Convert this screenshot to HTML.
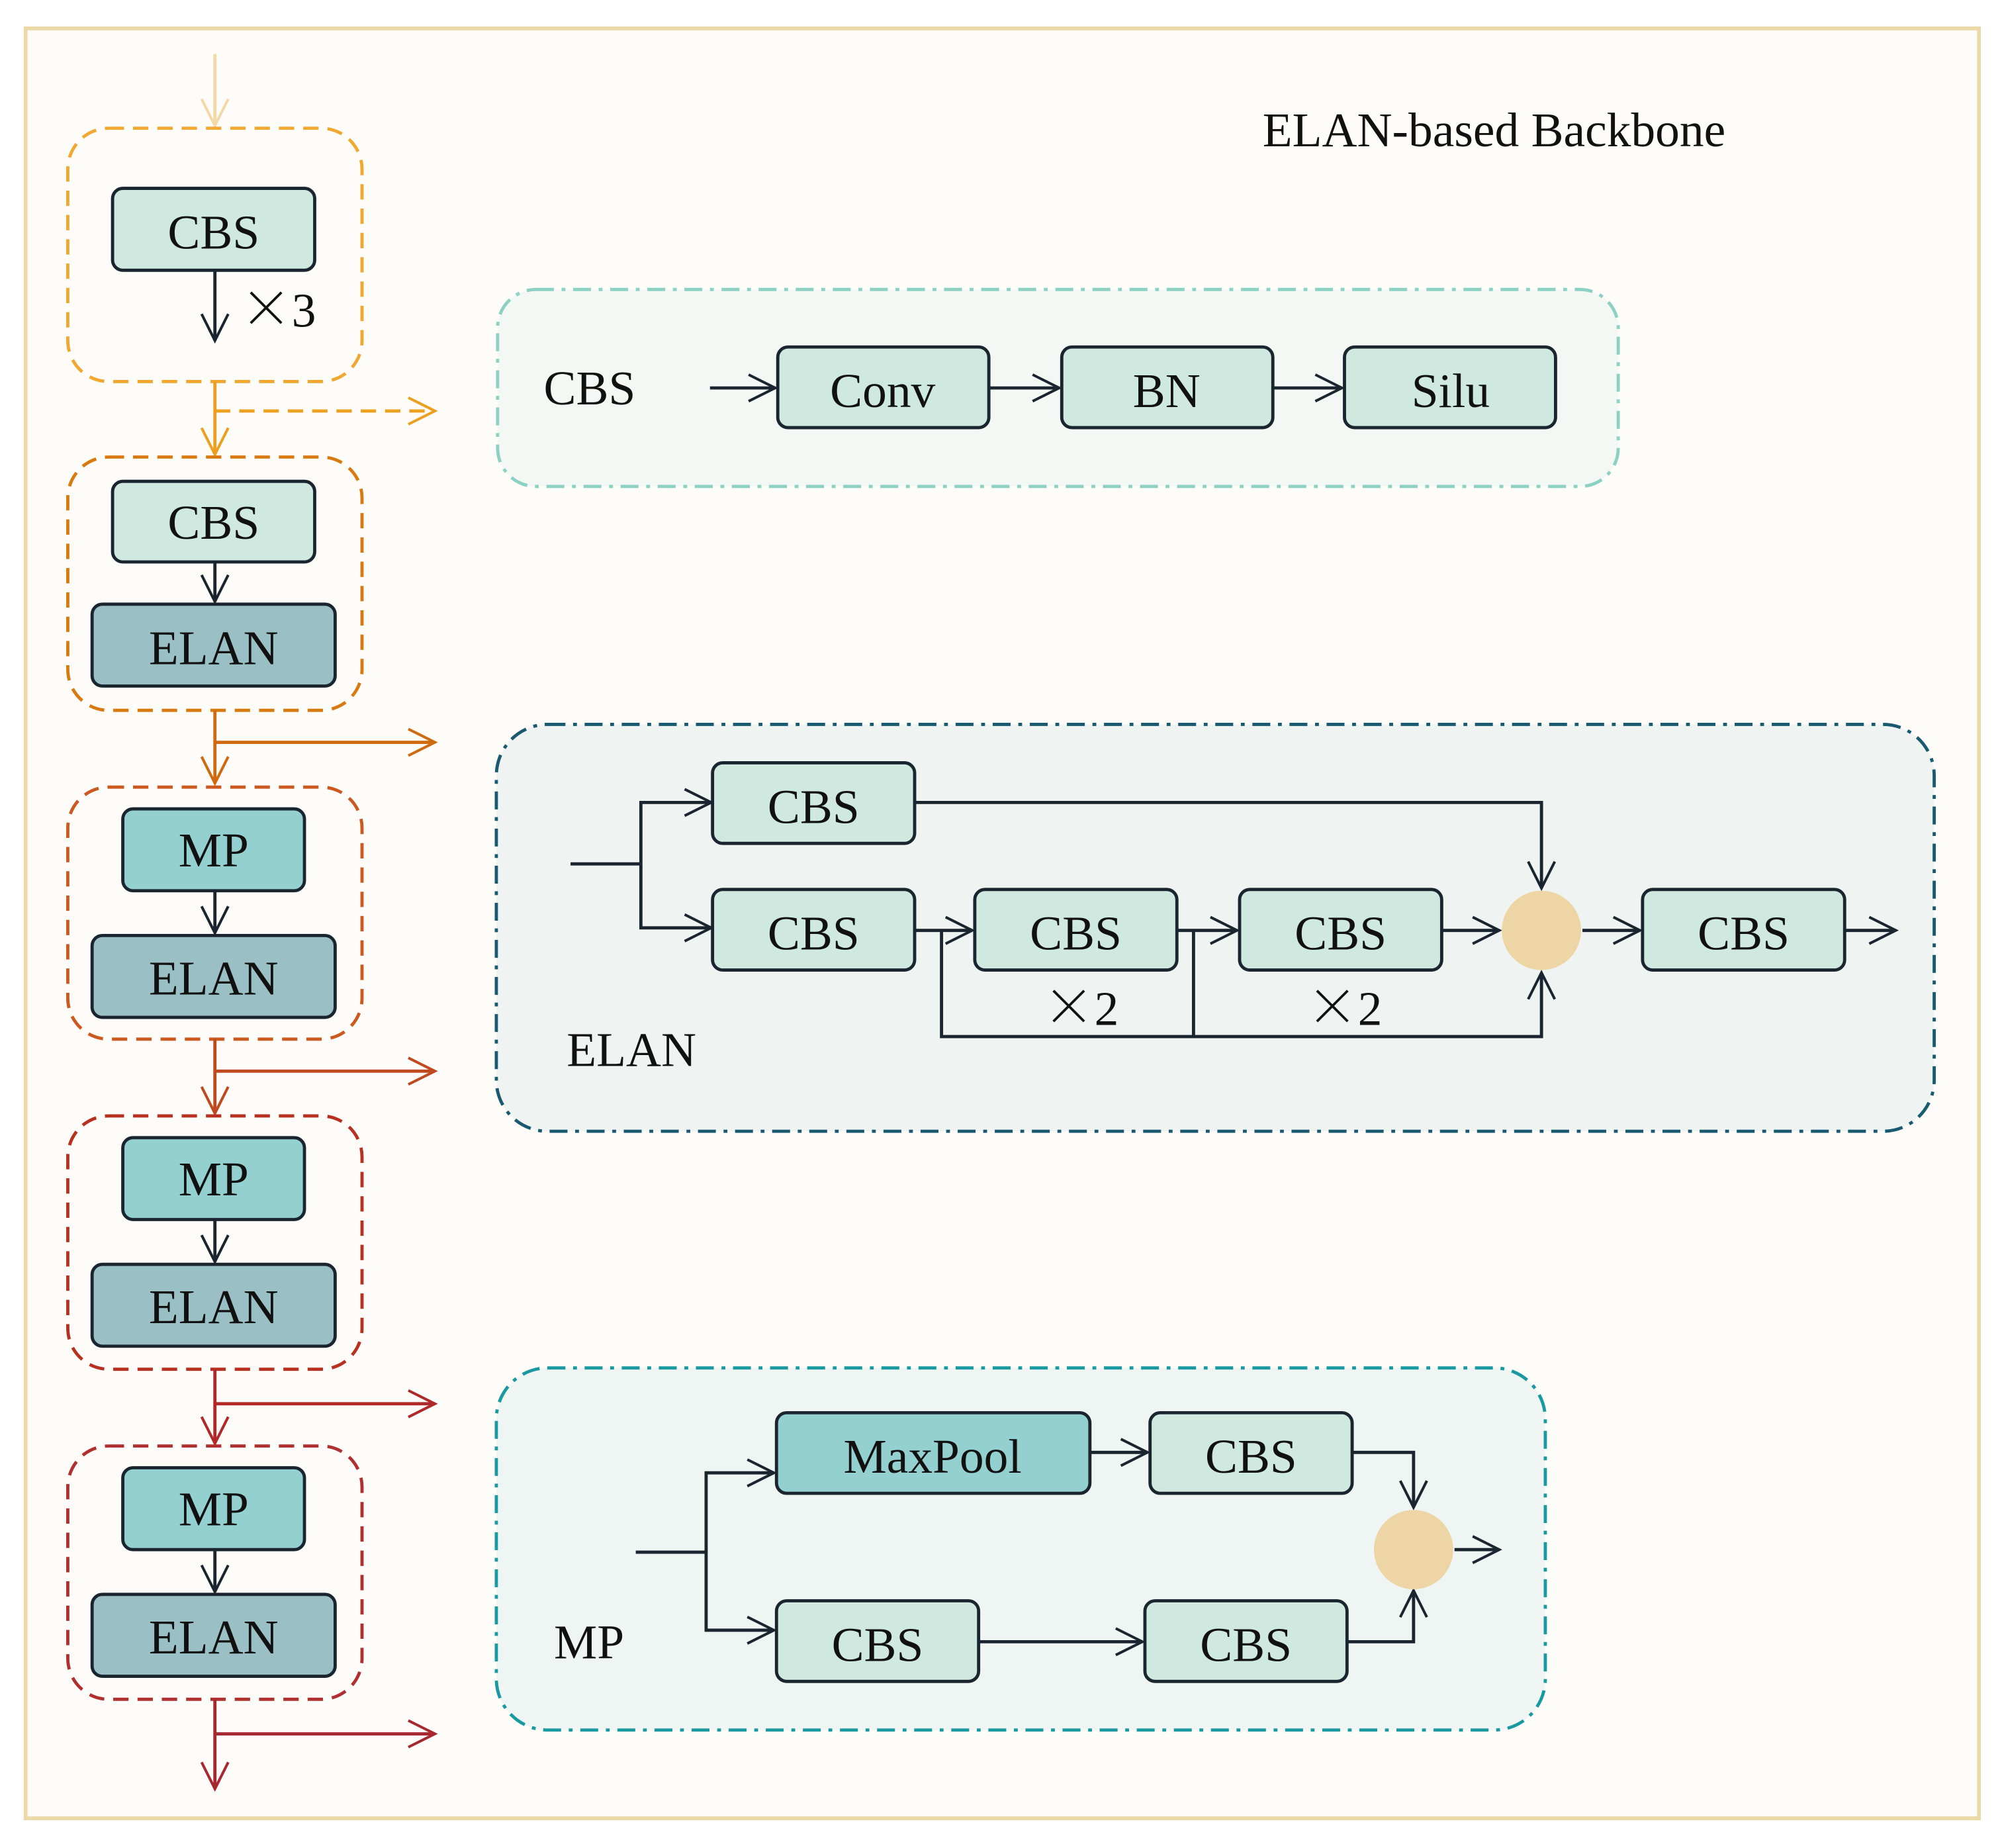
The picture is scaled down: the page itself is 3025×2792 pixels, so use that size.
<!DOCTYPE html>
<html><head><meta charset="utf-8"><style>
html,body{margin:0;padding:0;background:#fff;}
svg{display:block;}
text{font-family:"Liberation Serif",serif;font-size:38px;fill:#111;}
.x{font-family:"Noto Sans CJK SC",sans-serif;font-size:40px;font-weight:300;}
</style></head><body>
<svg width="3025" height="2792" viewBox="0 0 1565 1444" xmlns="http://www.w3.org/2000/svg">
<defs>
<marker id="k" viewBox="0 0 20 20" refX="18" refY="10" markerWidth="26" markerHeight="26" markerUnits="userSpaceOnUse" orient="auto"><path d="M2,2 L18,10 L2,18" fill="none" stroke="#1a2530" stroke-width="1.6"/></marker>
<marker id="o1" viewBox="0 0 20 20" refX="18" refY="10" markerWidth="26" markerHeight="26" markerUnits="userSpaceOnUse" orient="auto"><path d="M2,2 L18,10 L2,18" fill="none" stroke="#f3d9a8" stroke-width="1.6"/></marker>
<marker id="o2" viewBox="0 0 20 20" refX="18" refY="10" markerWidth="26" markerHeight="26" markerUnits="userSpaceOnUse" orient="auto"><path d="M2,2 L18,10 L2,18" fill="none" stroke="#eda020" stroke-width="1.6"/></marker>
<marker id="o3" viewBox="0 0 20 20" refX="18" refY="10" markerWidth="26" markerHeight="26" markerUnits="userSpaceOnUse" orient="auto"><path d="M2,2 L18,10 L2,18" fill="none" stroke="#d06a10" stroke-width="1.6"/></marker>
<marker id="o4" viewBox="0 0 20 20" refX="18" refY="10" markerWidth="26" markerHeight="26" markerUnits="userSpaceOnUse" orient="auto"><path d="M2,2 L18,10 L2,18" fill="none" stroke="#c04a20" stroke-width="1.6"/></marker>
<marker id="o5" viewBox="0 0 20 20" refX="18" refY="10" markerWidth="26" markerHeight="26" markerUnits="userSpaceOnUse" orient="auto"><path d="M2,2 L18,10 L2,18" fill="none" stroke="#b02828" stroke-width="1.6"/></marker>
<marker id="o6" viewBox="0 0 20 20" refX="18" refY="10" markerWidth="26" markerHeight="26" markerUnits="userSpaceOnUse" orient="auto"><path d="M2,2 L18,10 L2,18" fill="none" stroke="#a82830" stroke-width="1.6"/></marker>
</defs>
<rect x="0" y="0" width="1565" height="1444" fill="#fff"/>
<rect x="20" y="22" width="1527" height="1399" fill="#fdfcf8" stroke="#ecd9a8" stroke-width="3"/>

<g stroke-width="2.5" fill="none">
<line x1="168" y1="42" x2="168" y2="98" stroke="#f3d9a8" marker-end="url(#o1)"/>
<rect x="53" y="100" width="230" height="198" rx="32" stroke="#f0a830" stroke-dasharray="12,7"/>
<line x1="168" y1="298" x2="168" y2="355" stroke="#eda020" marker-end="url(#o2)"/>
<line x1="168" y1="321" x2="340" y2="321" stroke="#eda020" stroke-dasharray="12,7" marker-end="url(#o2)"/>
<rect x="53" y="357" width="230" height="198" rx="32" stroke="#d97a10" stroke-dasharray="12,7"/>
<line x1="168" y1="555" x2="168" y2="612" stroke="#d06a10" marker-end="url(#o3)"/>
<line x1="168" y1="580" x2="340" y2="580" stroke="#d06a10" marker-end="url(#o3)"/>
<rect x="53" y="615" width="230" height="197" rx="32" stroke="#cc5a20" stroke-dasharray="12,7"/>
<line x1="168" y1="812" x2="168" y2="870" stroke="#c04a20" marker-end="url(#o4)"/>
<line x1="168" y1="837" x2="340" y2="837" stroke="#c04a20" marker-end="url(#o4)"/>
<rect x="53" y="872" width="230" height="198" rx="32" stroke="#b83020" stroke-dasharray="12,7"/>
<line x1="168" y1="1070" x2="168" y2="1128" stroke="#b02828" marker-end="url(#o5)"/>
<line x1="168" y1="1097" x2="340" y2="1097" stroke="#b02828" marker-end="url(#o5)"/>
<rect x="53" y="1130" width="230" height="198" rx="32" stroke="#b03030" stroke-dasharray="12,7"/>
<line x1="168" y1="1328" x2="168" y2="1398" stroke="#a82830" marker-end="url(#o6)"/>
<line x1="168" y1="1355" x2="340" y2="1355" stroke="#a82830" marker-end="url(#o6)"/>
</g>
<g stroke="#1a2530" stroke-width="2.5">
<rect x="88" y="147" width="158" height="64" rx="8" fill="#cfe8e0"/>
<rect x="88" y="376" width="158" height="63" rx="8" fill="#cfe8e0"/>
<rect x="72" y="472" width="190" height="64" rx="8" fill="#9abfc4"/>
<rect x="96" y="632" width="142" height="64" rx="8" fill="#94d0d0"/>
<rect x="72" y="731" width="190" height="64" rx="8" fill="#9abfc4"/>
<rect x="96" y="889" width="142" height="64" rx="8" fill="#94d0d0"/>
<rect x="72" y="988" width="190" height="64" rx="8" fill="#9abfc4"/>
<rect x="96" y="1147" width="142" height="64" rx="8" fill="#94d0d0"/>
<rect x="72" y="1246" width="190" height="64" rx="8" fill="#9abfc4"/>
<g fill="none" marker-end="url(#k)">
<line x1="168" y1="211" x2="168" y2="266"/>
<line x1="168" y1="439" x2="168" y2="470"/>
<line x1="168" y1="696" x2="168" y2="729"/>
<line x1="168" y1="953" x2="168" y2="986"/>
<line x1="168" y1="1211" x2="168" y2="1244"/>
</g>
</g>
<g text-anchor="middle">
<text x="167" y="194">CBS</text>
<text x="167" y="421">CBS</text>
<text x="167" y="519">ELAN</text>
<text x="167" y="677">MP</text>
<text x="167" y="777">ELAN</text>
<text x="167" y="934">MP</text>
<text x="167" y="1034">ELAN</text>
<text x="167" y="1192">MP</text>
<text x="167" y="1292">ELAN</text>
</g>
<text x="188" y="255"><tspan class="x">×</tspan>3</text>
<text x="987" y="114">ELAN-based Backbone</text>

<rect x="389" y="226" width="876" height="154" rx="30" fill="#f3f8f4" stroke="#8dd0c4" stroke-width="2.5" stroke-dasharray="14,6,3,6"/>
<text x="425" y="316">CBS</text>
<g stroke="#1a2530" stroke-width="2.5">
<g fill="none" marker-end="url(#k)">
<line x1="555" y1="303" x2="606" y2="303"/>
<line x1="773" y1="303" x2="828" y2="303"/>
<line x1="995" y1="303" x2="1049" y2="303"/>
</g>
<rect x="608" y="271" width="165" height="63" rx="8" fill="#cfe8e0"/>
<rect x="830" y="271" width="165" height="63" rx="8" fill="#cfe8e0"/>
<rect x="1051" y="271" width="165" height="63" rx="8" fill="#cfe8e0"/>
</g>
<g text-anchor="middle">
<text x="690" y="318">Conv</text>
<text x="912" y="318">BN</text>
<text x="1134" y="318">Silu</text>
</g>

<rect x="388" y="566" width="1124" height="318" rx="40" fill="#eff4f2" stroke="#1a5a70" stroke-width="2.5" stroke-dasharray="14,6,3,6"/>
<text x="443" y="833">ELAN</text>
<g stroke="#1a2530" stroke-width="2.5" fill="none">
<polyline points="446,675 501,675"/>
<polyline points="501,675 501,627 556,627" marker-end="url(#k)"/>
<polyline points="501,675 501,725 556,725" marker-end="url(#k)"/>
<polyline points="715,627 1205,627 1205,694" marker-end="url(#k)"/>
<line x1="715" y1="727" x2="760" y2="727" marker-end="url(#k)"/>
<line x1="920" y1="727" x2="967" y2="727" marker-end="url(#k)"/>
<line x1="1128" y1="727" x2="1172" y2="727" marker-end="url(#k)"/>
<line x1="1237" y1="727" x2="1282" y2="727" marker-end="url(#k)"/>
<line x1="1442" y1="727" x2="1482" y2="727" marker-end="url(#k)"/>
<polyline points="736,727 736,810 1205,810 1205,760" marker-end="url(#k)"/>
<line x1="933" y1="727" x2="933" y2="810"/>
</g>
<g stroke="#1a2530" stroke-width="2.5" fill="#cfe8e0">
<rect x="557" y="596" width="158" height="63" rx="8"/>
<rect x="557" y="695" width="158" height="63" rx="8"/>
<rect x="762" y="695" width="158" height="63" rx="8"/>
<rect x="969" y="695" width="158" height="63" rx="8"/>
<rect x="1284" y="695" width="158" height="63" rx="8"/>
</g>
<circle cx="1205" cy="727" r="31" fill="#edd5a5"/>
<g text-anchor="middle">
<text x="636" y="643">CBS</text>
<text x="636" y="742">CBS</text>
<text x="841" y="742">CBS</text>
<text x="1048" y="742">CBS</text>
<text x="1363" y="742">CBS</text>
<text x="845" y="801"><tspan class="x">×</tspan>2</text>
<text x="1051" y="801"><tspan class="x">×</tspan>2</text>
</g>

<rect x="388" y="1069" width="820" height="283" rx="40" fill="#eff5f3" stroke="#1a9aa0" stroke-width="2.5" stroke-dasharray="14,6,3,6"/>
<text x="433" y="1296">MP</text>
<g stroke="#1a2530" stroke-width="2.5" fill="none">
<line x1="497" y1="1213" x2="552" y2="1213"/>
<polyline points="552,1213 552,1151 605,1151" marker-end="url(#k)"/>
<polyline points="552,1213 552,1274 605,1274" marker-end="url(#k)"/>
<line x1="852" y1="1135" x2="897" y2="1135" marker-end="url(#k)"/>
<polyline points="1057,1135 1105,1135 1105,1178" marker-end="url(#k)"/>
<line x1="765" y1="1283" x2="893" y2="1283" marker-end="url(#k)"/>
<polyline points="1053,1283 1105,1283 1105,1243" marker-end="url(#k)"/>
<line x1="1137" y1="1211" x2="1172" y2="1211" marker-end="url(#k)"/>
</g>
<g stroke="#1a2530" stroke-width="2.5">
<rect x="607" y="1104" width="245" height="63" rx="8" fill="#94d0d0"/>
<rect x="899" y="1104" width="158" height="63" rx="8" fill="#cfe8e0"/>
<rect x="607" y="1251" width="158" height="63" rx="8" fill="#cfe8e0"/>
<rect x="895" y="1251" width="158" height="63" rx="8" fill="#cfe8e0"/>
</g>
<circle cx="1105" cy="1211" r="31" fill="#edd5a5"/>
<g text-anchor="middle">
<text x="729" y="1151">MaxPool</text>
<text x="978" y="1151">CBS</text>
<text x="686" y="1298">CBS</text>
<text x="974" y="1298">CBS</text>
</g>
</svg>
</body></html>
